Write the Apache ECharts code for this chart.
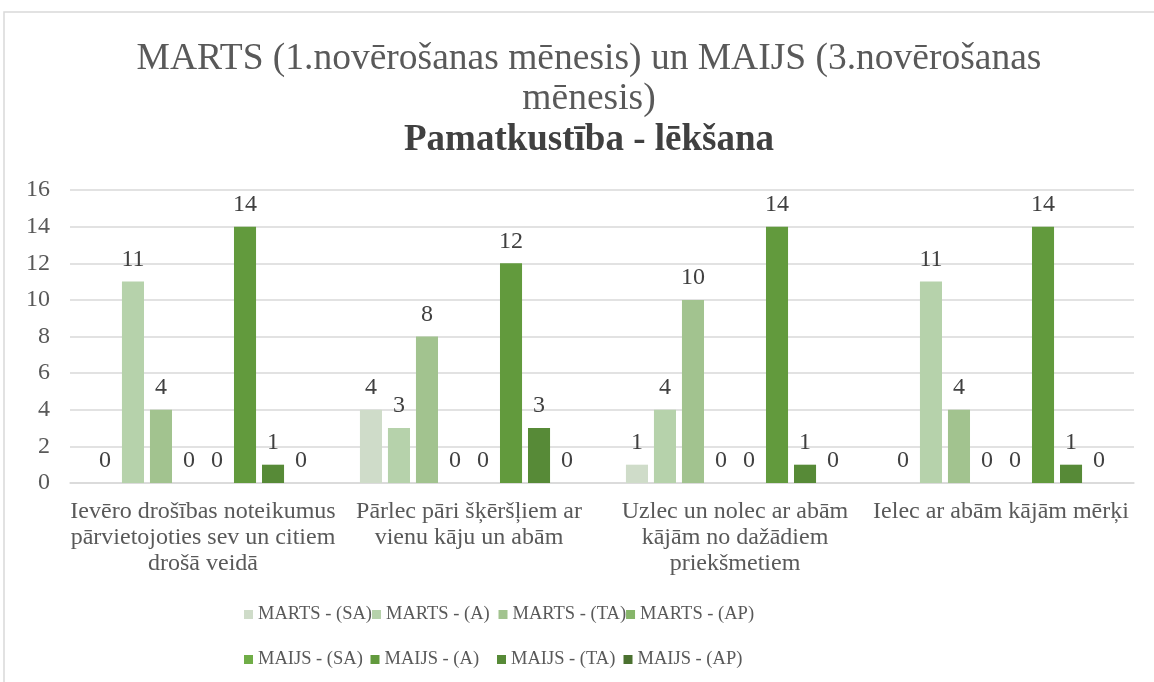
<!DOCTYPE html>
<html><head><meta charset="utf-8">
<script src="https://cdn.jsdelivr.net/npm/echarts@6/dist/echarts.min.js"></script>
<style>html,body{margin:0;padding:0;background:#fff}#c{width:1154px;height:682px}</style>
</head><body><div id="c"></div>
<script>
const categories = [
  "Ievēro drošības noteikumus\npārvietojoties sev un citiem\ndrošā veidā",
  "Pārlec pāri šķēršļiem ar\nvienu kāju un abām",
  "Uzlec un nolec ar abām\nkājām no dažādiem\npriekšmetiem",
  "Ielec ar abām kājām mērķi"
];
const seriesNames = ["MARTS - (SA)","MARTS - (A)","MARTS - (TA)","MARTS - (AP)","MAIJS - (SA)","MAIJS - (A)","MAIJS - (TA)","MAIJS - (AP)"];
const martsSA = [0, 4, 1, 0];
const martsA  = [11, 3, 4, 11];
const martsTA = [4, 8, 10, 4];
const martsAP = [0, 0, 0, 0];
const maijsSA = [0, 0, 0, 0];
const maijsA  = [14, 12, 14, 14];
const maijsTA = [1, 3, 1, 1];
const maijsAP = [0, 0, 0, 0];
const yTicks = [0, 2, 4, 6, 8, 10, 12, 14, 16];
const colors = ["#cfdcc9","#b6d2ab","#a2c38f","#86b56a","#70ad47","#629a3d","#578a37","#4b7130"];
const values = [martsSA, martsA, martsTA, martsAP, maijsSA, maijsA, maijsTA, maijsAP];
const font = "'Liberation Serif', 'Times New Roman', serif";

const chart = echarts.init(document.getElementById('c'), null, {renderer: 'canvas'});
chart.setOption({
  animation: false,
  color: colors,
  graphic: [{type: 'rect', shape: {x: 4, y: 12, width: 1200, height: 720}, style: {fill: 'none', stroke: '#d9d9d9', lineWidth: 1.5}, silent: true}],
  title: {
    text: "MARTS (1.novērošanas mēnesis) un MAIJS (3.novērošanas\nmēnesis)",
    subtext: "Pamatkustība - lēkšana",
    left: 584, top: 34, textAlign: 'center', itemGap: 1,
    textStyle: {fontFamily: font, fontSize: 37.5, fontWeight: 'normal', color: '#595959', lineHeight: 40},
    subtextStyle: {fontFamily: font, fontSize: 37, fontWeight: 'bold', color: '#404040', lineHeight: 40}
  },
  legend: {
    data: seriesNames, left: 239, top: 587, width: 520,
    itemWidth: 9, itemHeight: 9, itemGap: 0, icon: 'rect',
    formatter: name => '{a|' + name + '}',
    textStyle: {fontFamily: font, fontSize: 18.5, color: '#595959',
      rich: {a: {fontFamily: font, fontSize: 18.5, color: '#595959', width: 112.5, height: 45, lineHeight: 45}}}
  },
  grid: {left: 70, right: 20, top: 190, bottom: 199},
  xAxis: {
    type: 'category', data: categories,
    axisLine: {lineStyle: {color: '#d9d9d9', width: 1.5}},
    axisTick: {show: false},
    axisLabel: {fontFamily: font, fontSize: 24, color: '#595959', lineHeight: 26, margin: 16, interval: 0}
  },
  yAxis: {
    type: 'value', min: yTicks[0], max: yTicks[yTicks.length-1], interval: 2,
    axisLine: {show: false}, axisTick: {show: false},
    axisLabel: {fontFamily: font, fontSize: 24, color: '#595959', margin: 20},
    splitLine: {lineStyle: {color: '#d9d9d9', width: 1.5}}
  },
  series: seriesNames.map((n, i) => ({
    name: n, type: 'bar', data: values[i],
    barGap: '27%', barCategoryGap: '18%',
    itemStyle: {color: colors[i]},
    label: {show: true, position: 'top', distance: 10, fontFamily: font, fontSize: 24, color: '#404040'}
  }))
});
</script></body></html>
